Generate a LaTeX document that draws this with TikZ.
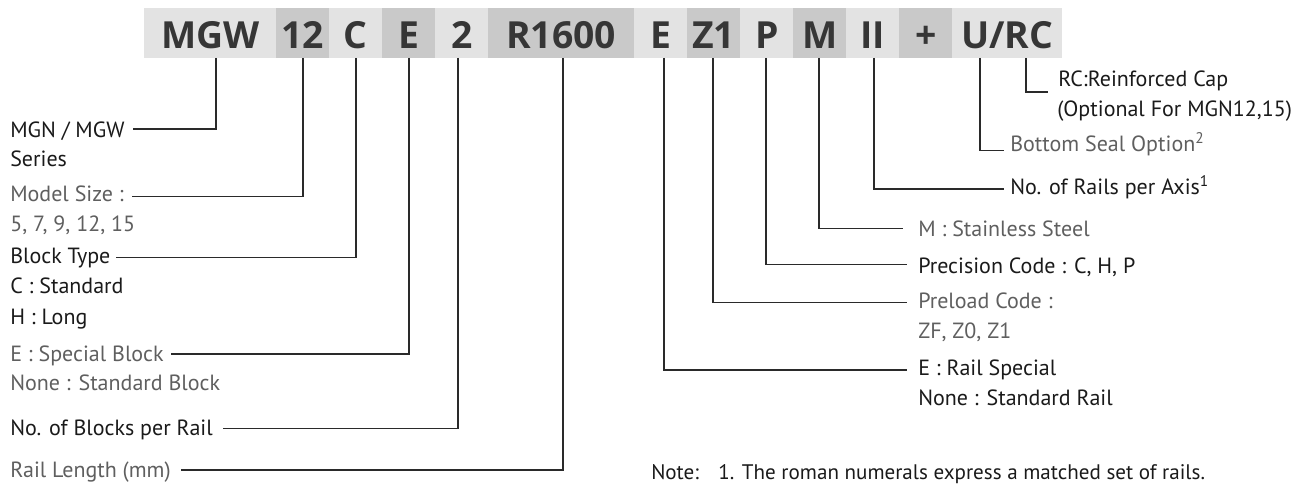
\documentclass[tikz,border=0pt]{standalone}
\usepackage{fontspec}
\setmainfont{PT Sans}
\newfontfamily\barfont{Open Sans}
\definecolor{seglt}{HTML}{E3E3E3}
\definecolor{segdk}{HTML}{C9C9C9}
\definecolor{bartxt}{HTML}{363636}
\definecolor{lblk}{HTML}{1A1A1A}
\definecolor{lgray}{HTML}{5F5F5F}
\definecolor{linec}{HTML}{2A2A2A}
\tikzset{
  seg/.style={inner sep=0pt, anchor=north west, minimum height=37.5pt,
    text height=22.5pt, text depth=0pt,
    font=\barfont\bfseries\fontsize{28}{28}\selectfont, text=bartxt},
  lt/.style={seg, fill=seglt},
  dk/.style={seg, fill=segdk},
  lbl/.style={inner sep=0pt, anchor=base west, font=\fontsize{16.5}{16.5}\selectfont, text=lblk},
  glbl/.style={lbl, text=lgray},
  notelbl/.style={lbl, font=\fontsize{15.8}{15.8}\selectfont},
  conn/.style={draw=linec, line width=1.1pt}
}
\begin{document}
\begin{tikzpicture}[x=0.75pt,y=-0.75pt]
\useasboundingbox (0,0) rectangle (1308,484);
% ---- code bar ----
\node[lt, minimum width=99pt]    (sMGW) at (144,8) {MGW};
\node[dk, minimum width=39.75pt] (s12)  at (276,8) {12};
\node[lt, minimum width=39.75pt] (sC)   at (329,8) {C};
\node[dk, minimum width=39.75pt] (sE)   at (382,8) {E};
\node[lt, minimum width=39.75pt] (s2)   at (435,8) {2};
\node[dk, minimum width=109.5pt] (sR)   at (488,8) {R1600};
\node[lt, minimum width=39.75pt] (sE2)  at (634,8) {E};
\node[dk, minimum width=39.75pt] (sZ)   at (687,8) {Z1};
\node[lt, minimum width=39.75pt] (sP)   at (740,8) {P};
\node[dk, minimum width=39.75pt] (sM)   at (793,8) {M};
\node[lt, minimum width=39.75pt] (sII)  at (846,8) {II};
\node[dk, minimum width=39.75pt] (sPl)  at (899,8) {+};
\node[lt, minimum width=82.5pt]  (sU)   at (952,8) {U/RC};
% ---- tick points on the bar's lower edge ----
\coordinate (tMGW) at (216,58);
\coordinate (t12)  at (303,58);
\coordinate (tC)   at (356,58);
\coordinate (tE)   at (409,58);
\coordinate (t2)   at (458,58);
\coordinate (tR)   at (563,58);
\coordinate (tE2)  at (664,58);
\coordinate (tZ)   at (713,58);
\coordinate (tP)   at (766,58);
\coordinate (tM)   at (819,58);
\coordinate (tII)  at (874,58);
\coordinate (tU)   at (980,58);
\coordinate (tRC)  at (1026,58);
% ---- left labels ----
\node[lbl]  (mgn)    at (10,137.5) {MGN / MGW};
\node[lbl]  (series) at (10,167)   {Series};
\node[glbl] (msize)  at (10,201.7) {Model Size :};
\node[glbl] (msz2)   at (10,231.5) {5, 7, 9, 12, 15};
\node[lbl]  (btype)  at (10,263.3) {Block Type};
\node[lbl]  (bc)     at (10,294)   {C : Standard};
\node[lbl]  (bh)     at (10,324)   {H : Long};
\node[glbl] (espec)  at (10,361.7) {E : Special Block};
\node[glbl] (enone)  at (10,390.7) {None : Standard Block};
\node[lbl]  (nblk)   at (10,435.7) {No. of Blocks per Rail};
\node[glbl] (rlen)   at (10,477.3) {Rail Length (mm)};
% ---- right labels ----
\node[lbl]  (rc)     at (1058,86.7)  {RC:Reinforced Cap};
\node[lbl]  (rc2)    at (1057,116.7) {(Optional For MGN12,15)};
\node[glbl] (bseal)  at (1010,151.7) {Bottom Seal Option\textsuperscript{2}};
\node[lbl]  (nrail)  at (1010,195)   {No. of Rails per Axis\textsuperscript{1}};
\node[glbl] (mst)    at (918,236.7)  {M : Stainless Steel};
\node[lbl]  (prec)   at (918,274)    {Precision Code : C, H, P};
\node[glbl] (prel)   at (918,308.3)  {Preload Code :};
\node[glbl] (prel2)  at (918,338)    {ZF, Z0, Z1};
\node[lbl]  (erail)  at (918,375.7)  {E : Rail Special};
\node[lbl]  (enrail) at (918,405)    {None : Standard Rail};
\node[notelbl] (note) at (651,479)   {Note:\hspace{9pt} 1. The roman numerals express a matched set of rails.};
% ---- connectors ----
\draw[conn] (tMGW) |- ([xshift=6pt,yshift=6.2pt]mgn.base east);
\draw[conn] (t12)  |- ([xshift=6pt,yshift=3.8pt]msize.base east);
\draw[conn] (tC)   |- ([xshift=4pt,yshift=4.2pt]btype.base east);
\draw[conn] (tE)   |- ([xshift=5pt,yshift=5.8pt]espec.base east);
\draw[conn] (t2)   |- ([xshift=7.5pt,yshift=5.5pt]nblk.base east);
\draw[conn] (tR)   |- ([xshift=7.5pt,yshift=5.5pt]rlen.base east);
\draw[conn] (tRC)  |- ([xshift=-7.5pt,yshift=-4pt]rc.base west);
\draw[conn] (tU)   |- ([xshift=-4.5pt,yshift=0.8pt]bseal.base west);
\draw[conn] (tII)  |- ([xshift=-4.5pt,yshift=4.5pt]nrail.base west);
\draw[conn] (tM)   |- ([xshift=-11pt,yshift=6.3pt]mst.base west);
\draw[conn] (tP)   |- ([xshift=-8.5pt,yshift=7.3pt]prec.base west);
\draw[conn] (tZ)   |- ([xshift=-8.5pt,yshift=4.2pt]prel.base west);
\draw[conn] (tE2)  |- ([xshift=-8.5pt,yshift=4.3pt]erail.base west);
\end{tikzpicture}
\end{document}
